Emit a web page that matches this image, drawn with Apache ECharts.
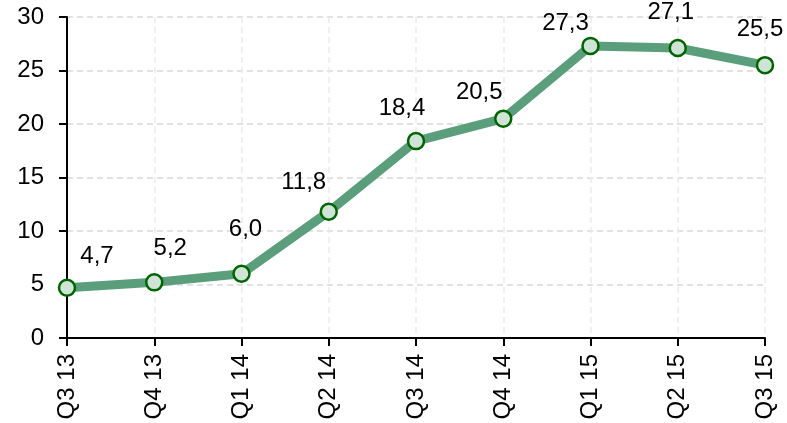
<!DOCTYPE html>
<html>
<head>
<meta charset="utf-8">
<script src="https://cdn.jsdelivr.net/npm/echarts@6/dist/echarts.min.js"></script>
<style>
	html, body { margin: 0; padding: 0; background: #fff; }
	#chart { width: 787px; height: 423px; }
</style>
</head>
<body>
<div id="chart"></div>
<script>
	var quarters = ['Q3 13', 'Q4 13', 'Q1 14', 'Q2 14', 'Q3 14', 'Q4 14', 'Q1 15', 'Q2 15', 'Q3 15']
	var values = [4.7, 5.2, 6.0, 11.8, 18.4, 20.5, 27.3, 27.1, 25.5]
	var yTicks = [0, 5, 10, 15, 20, 25, 30]
	// label nudges, label centre relative to the point
	var labelOffsets = [[30, -31], [16, -34], [4, -44], [-25, -29], [-14, -33], [-24, -26], [-25, -23], [-7, -36], [-5, -36]]

	var font = '"Liberation Sans", Arial, sans-serif'
	var chart = echarts.init(document.getElementById('chart'))
	chart.setOption({
		animation: false,
		grid: { left: 67, right: 22, top: 17, bottom: 85 },
		xAxis: {
			type: 'category',
			data: quarters,
			boundaryGap: false,
			axisLine: { lineStyle: { color: '#000', width: 2 } },
			axisTick: { alignWithLabel: true, length: 8, lineStyle: { color: '#000', width: 2 } },
			axisLabel: { rotate: 90, margin: 16, color: '#000', fontSize: 24, fontFamily: font },
			splitLine: { show: true, lineStyle: { color: '#ececec', type: [6, 4], width: 1.5 } }
		},
		yAxis: {
			type: 'value',
			min: yTicks[0],
			max: yTicks[yTicks.length - 1],
			interval: 5,
			axisLine: { show: true, lineStyle: { color: '#000', width: 2 } },
			axisTick: { show: true, length: 8, lineStyle: { color: '#000', width: 2 } },
			axisLabel: { margin: 23, color: '#000', fontSize: 24, fontFamily: font },
			splitLine: { lineStyle: { color: '#d9d9d9', type: [6, 4], width: 1.5 } }
		},
		series: [{
			type: 'line',
			data: values.map(function (v, i) {
				return { value: v, label: { offset: labelOffsets[i] } }
			}),
			lineStyle: { color: '#5a9e7c', width: 9 },
			symbol: 'circle',
			symbolSize: 16,
			itemStyle: { color: '#cfe4d6', borderColor: '#006400', borderWidth: 2.5 },
			label: {
				show: true,
				position: 'inside',
				color: '#000',
				fontSize: 24,
				fontFamily: font,
				formatter: function (p) { return p.value.toFixed(1).replace('.', ',') }
			},
			z: 3
		}]
	})
</script>
</body>
</html>
